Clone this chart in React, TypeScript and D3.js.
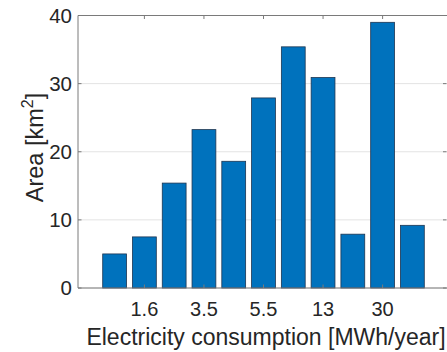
import * as d3 from "d3";

// bar categories (only every other one is labelled on the axis)
const categories = ["c1", "c2", "c3", "c4", "c5", "c6", "c7", "c8", "c9", "c10", "c11"];
const tickLabels = ["", "1.6", "", "3.5", "", "5.5", "", "13", "", "30", ""];
const areas = [5.0, 7.5, 15.4, 23.25, 18.6, 27.9, 35.4, 30.9, 7.9, 39.0, 9.2];
const yTicks = [0, 10, 20, 30, 40];

const W = 447;
const H = 352;
const left = 78;
const right = 449;
const top = 15.5;
const bottom = 288;
const font = "'Liberation Sans', Arial, sans-serif";

export default function App() {
  const x = d3
    .scaleBand<string>()
    .domain(categories)
    .range([left, right])
    .paddingInner(0.2)
    .paddingOuter(0.83);
  const y = d3.scaleLinear().domain([0, 40]).range([bottom, top]);

  const labelled = categories.map((c, i) => ({ c, label: tickLabels[i] })).filter((d) => d.label);

  return (
    <svg
      width={W}
      height={H}
      style={{ position: "absolute", left: 0, top: 0, background: "#fff" }}
      fontFamily={font}
    >
      {/* horizontal grid */}
      {yTicks.map((t) => (
        <line key={"g" + t} x1={left} x2={right} y1={y(t)} y2={y(t)} stroke="#e3e3e3" strokeWidth={1} />
      ))}

      {/* bars */}
      {areas.map((v, i) => (
        <rect
          key={categories[i]}
          x={x(categories[i])}
          y={y(v)}
          width={x.bandwidth()}
          height={y(0) - y(v)}
          fill="#0072BD"
          stroke="#1e3550"
          strokeWidth={0.8}
        />
      ))}

      {/* axes box */}
      <line x1={left} x2={right} y1={bottom} y2={bottom} stroke="#7a7a7a" />
      <line x1={left} x2={right} y1={top} y2={top} stroke="#7a7a7a" />
      <line x1={left} x2={left} y1={top} y2={bottom} stroke="#7a7a7a" />

      {/* x ticks top and bottom */}
      {labelled.map((d) => {
        const cx = (x(d.c) as number) + x.bandwidth() / 2;
        return (
          <g key={"xt" + d.c}>
            <line x1={cx} x2={cx} y1={top} y2={top + 3.5} stroke="#7a7a7a" />
            <line x1={cx} x2={cx} y1={bottom} y2={bottom - 3.5} stroke="#7a7a7a" />
            <text x={cx} y={316} textAnchor="middle" fontSize={20} fill="#262626">
              {d.label}
            </text>
          </g>
        );
      })}

      {/* y ticks */}
      {yTicks.map((t) => (
        <g key={"yt" + t}>
          <line x1={left} x2={left + 3.5} y1={y(t)} y2={y(t)} stroke="#7a7a7a" />
          <line x1={right - 6} x2={right - 2.5} y1={y(t)} y2={y(t)} stroke="#7a7a7a" />
          <text x={72} y={y(t)} dy="0.36em" textAnchor="end" fontSize={20.5} fill="#262626">
            {t}
          </text>
        </g>
      ))}

      {/* axis titles */}
      <text x={266} y={345} textAnchor="middle" fontSize={23} fill="#262626">
        Electricity consumption [MWh/year]
      </text>
      <text
        transform={`translate(43,147.5) rotate(-90)`}
        textAnchor="middle"
        fontSize={23.5}
        fill="#262626"
      >
        Area [km
        <tspan fontSize={16} dy={-10}>
          2
        </tspan>
        <tspan dy={10}>]</tspan>
      </text>
    </svg>
  );
}
